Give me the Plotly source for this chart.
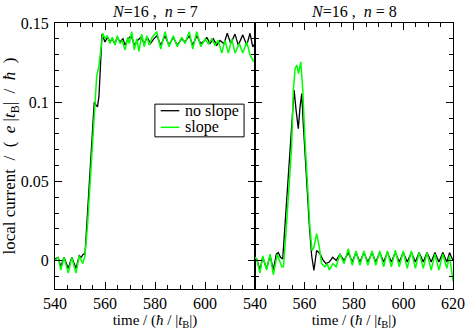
import plotly.graph_objects as go
from plotly.subplots import make_subplots

# n = 7 panel
t7_noslope = [540, 541.3, 542.3, 543.6, 545.3, 546.7, 548.4, 549.7, 550.5, 551.3, 552.0, 553.0,
              554.3, 555.7, 556.3, 557.0, 557.6, 558.2, 558.8, 560.0, 561.0, 562.0, 562.9, 564.0,
              564.9, 566.0, 567.2, 568.0, 569.2, 570.5, 571.8, 573.0, 574.4, 575.7, 576.9, 578.2,
              579.5, 580.8, 582.3, 584.0, 585.6, 587.3, 588.9, 590.7, 592.0, 593.7, 595.1, 596.7,
              598.3, 600.0, 600.7, 602.0, 603.3, 604.7, 606.0, 607.6, 608.9, 610.3, 612.0, 613.3,
              615.1, 616.7, 618.0, 619.1, 620]
j7_noslope = [0.001, 0.002, -0.004, 0.002, -0.005, 0.002, -0.005, 0.003, 0.002, 0.004, 0.004, 0.030,
              0.065, 0.100, 0.0985, 0.097, 0.104, 0.128, 0.143, 0.138, 0.141, 0.138, 0.140, 0.137,
              0.141, 0.138, 0.140, 0.136, 0.140, 0.142, 0.136, 0.139, 0.141, 0.137, 0.141, 0.137,
              0.140, 0.142, 0.136, 0.142, 0.136, 0.141, 0.136, 0.140, 0.138, 0.142, 0.136, 0.142,
              0.137, 0.139, 0.141, 0.137, 0.140, 0.136, 0.139, 0.137, 0.1435, 0.137, 0.143, 0.136,
              0.1425, 0.136, 0.1435, 0.135, 0.137]

t7_slope = [540, 541.3, 542.3, 543.6, 545.3, 546.7, 548.4, 549.7, 551.1, 552.0, 553.0, 554.3,
            555.5, 556.7, 557.5, 558.3, 559.1, 560.0, 560.9, 562.0, 562.9, 564.0, 564.9, 566.0,
            566.9, 568.0, 569.1, 569.7, 570.7, 571.7, 572.7, 573.6, 574.7, 575.7, 576.7, 577.7,
            578.9, 580.7, 582.3, 584.0, 585.6, 587.3, 588.9, 590.7, 592.0, 593.7, 595.1, 596.7,
            598.3, 600.0, 601.3, 602.7, 604.0, 605.3, 606.7, 608.0, 609.3, 610.7, 612.0, 613.7,
            615.1, 616.7, 618.0, 619.3, 620]
j7_slope = [0.000, 0.002, -0.006, 0.002, -0.008, 0.002, -0.008, 0.003, -0.002, 0.003, 0.022, 0.058,
            0.092, 0.117, 0.122, 0.135, 0.1435, 0.140, 0.142, 0.137, 0.141, 0.136, 0.142, 0.137,
            0.139, 0.133, 0.141, 0.137, 0.1445, 0.133, 0.140, 0.132, 0.143, 0.135, 0.142, 0.136,
            0.141, 0.1445, 0.1335, 0.1445, 0.135, 0.142, 0.135, 0.141, 0.137, 0.1445, 0.1335, 0.1445,
            0.135, 0.140, 0.137, 0.140, 0.136, 0.139, 0.131, 0.139, 0.131, 0.140, 0.131, 0.137,
            0.131, 0.138, 0.130, 0.126, 0.127]

# n = 8 panel
t8_noslope = [540, 540.7, 542.0, 543.1, 544.7, 546.1, 547.4, 548.6, 549.4, 550.3, 551.2, 552.1,
              552.7, 554.1, 555.0, 555.8, 556.6, 557.5, 558.2, 558.9, 559.5, 560.2, 561.1, 562.0,
              562.9, 563.8, 564.9, 566.3, 567.6, 568.7, 570.0, 571.4, 572.8, 574.3, 576.0, 577.7,
              579.3, 580.8, 582.4, 584.0, 585.6, 587.3, 588.8, 590.4, 592.0, 593.5, 595.1, 596.7,
              598.3, 599.9, 601.5, 603.2, 604.8, 606.3, 608.0, 609.5, 611.2, 612.7, 614.3, 615.9,
              617.5, 618.6, 620]
j8_noslope = [0.001, 0.001, -0.006, 0.002, -0.005, 0.003, -0.006, 0.004, 0.005, 0.002, 0.001, 0.021,
              0.038, 0.068, 0.085, 0.1076, 0.095, 0.0833, 0.097, 0.1055, 0.0865, 0.0675, 0.0485, 0.021,
              0.003, -0.0063, 0.0063, 0.0042, 0.000, -0.002, -0.001, 0.002, 0.000, 0.004, 0.000, 0.005,
              -0.001, 0.005, -0.001, 0.005, -0.001, 0.005, -0.001, 0.005, -0.001, 0.005, -0.001, 0.005,
              -0.001, 0.005, -0.001, 0.005, -0.001, 0.005, -0.001, 0.005, -0.001, 0.005, -0.001, 0.005,
              -0.001, 0.005, 0.000]

t8_slope = [540, 540.7, 542.0, 543.1, 544.7, 546.1, 547.4, 549.0, 550.8, 551.5, 552.5, 553.5,
            554.8, 555.5, 556.2, 556.9, 557.6, 558.5, 559.3, 560.2, 561.1, 562.2, 563.0, 563.8,
            564.9, 566.0, 566.9, 568.2, 569.2, 570.0, 571.5, 572.8, 574.3, 576.0, 577.7, 579.3,
            580.8, 582.4, 584.0, 585.6, 587.3, 588.8, 590.4, 592.0, 593.5, 595.1, 596.7, 598.3,
            599.9, 601.5, 603.2, 604.8, 606.3, 608.0, 609.5, 611.2, 612.7, 614.3, 615.9, 617.5,
            618.6, 620]
j8_slope = [0.002, 0.001, -0.008, 0.003, -0.006, 0.004, -0.009, 0.004, -0.004, -0.004, 0.017, 0.040,
            0.0717, 0.1076, 0.1213, 0.1234, 0.118, 0.1255, 0.1076, 0.076, 0.0506, 0.021, 0.0063, 0.0084,
            0.0169, 0.0084, -0.002, -0.004, -0.002, -0.006, -0.002, -0.004, 0.004, -0.002, 0.0074, -0.003,
            0.006, -0.003, 0.006, -0.003, 0.006, -0.003, 0.006, -0.004, 0.006, -0.004, 0.0065, -0.004,
            0.006, -0.005, 0.006, -0.005, 0.005, -0.005, 0.005, -0.006, 0.004, -0.006, 0.004, -0.005,
            0.003, -0.013]

x_ticks_left = [540, 560, 580, 600]
x_ticks_right = [540, 560, 580, 600, 620]
y_ticks = [0, 0.05, 0.1, 0.15]
y_ticktext = ["0", "0.05", "0.1", "0.15"]
legend_names = ["no slope", "slope"]

FONT = "Liberation Serif"
BLACK = "black"
GREEN = "#00ff00"

fig = make_subplots(rows=1, cols=2, shared_yaxes=True, horizontal_spacing=0)

fig.add_trace(go.Scatter(x=t7_noslope, y=j7_noslope, mode="lines", name=legend_names[0],
                         line=dict(color=BLACK, width=1.3)), row=1, col=1)
fig.add_trace(go.Scatter(x=t7_slope, y=j7_slope, mode="lines", name=legend_names[1],
                         line=dict(color=GREEN, width=1.5)), row=1, col=1)
fig.add_trace(go.Scatter(x=t8_noslope, y=j8_noslope, mode="lines", name=legend_names[0],
                         line=dict(color=BLACK, width=1.3)), row=1, col=2)
fig.add_trace(go.Scatter(x=t8_slope, y=j8_slope, mode="lines", name=legend_names[1],
                         line=dict(color=GREEN, width=1.5)), row=1, col=2)

xtitle = "time / (<i>ħ</i> / |<i>t</i><sub>B</sub>|)"
common_axis = dict(showline=True, linecolor="black", linewidth=1, mirror="ticks",
                   ticks="inside", ticklen=7, tickcolor="black", showgrid=False, zeroline=False,
                   automargin=False,
                   tickfont=dict(family=FONT, size=16, color="black"))

fig.update_xaxes(common_axis, range=[540, 620], domain=[0, 0.5025],
                 tickmode="array", tickvals=x_ticks_left, ticklabelstandoff=0,
                 minor=dict(ticks="inside", ticklen=4, dtick=5, tick0=540, tickcolor="black"),
                 title=dict(text=xtitle, font=dict(family=FONT, size=15), standoff=0),
                 row=1, col=1)
fig.update_xaxes(common_axis, range=[540, 620], domain=[0.5025, 1],
                 tickmode="array", tickvals=x_ticks_right, ticklabelstandoff=0,
                 minor=dict(ticks="inside", ticklen=4, dtick=5, tick0=540, tickcolor="black"),
                 title=dict(text=xtitle, font=dict(family=FONT, size=15), standoff=0),
                 row=1, col=2)
fig.update_yaxes(common_axis, range=[-0.018, 0.15], tickmode="array",
                 tickvals=y_ticks, ticktext=y_ticktext,
                 minor=dict(ticks="inside", ticklen=4, dtick=0.01, tick0=0, tickcolor="black"))
fig.update_yaxes(title=dict(text="local current  /  (  <i>e</i> |<i>t</i><sub>B</sub>|  /  <i>ħ</i>  )",
                            font=dict(family=FONT, size=17), standoff=3),
                 ticklabelstandoff=2, row=1, col=1)
fig.update_yaxes(showticklabels=False, row=1, col=2)

fig.add_annotation(text="<i>N</i>=16 ,  <i>n</i> = 7", x=0.2513, y=1.0, xref="paper", yref="paper",
                   xanchor="center", yanchor="bottom", showarrow=False, yshift=1,
                   font=dict(family=FONT, size=16))
fig.add_annotation(text="<i>N</i>=16 ,  <i>n</i> = 8", x=0.751, y=1.0, xref="paper", yref="paper",
                   xanchor="center", yanchor="bottom", showarrow=False, yshift=1,
                   font=dict(family=FONT, size=16))

# legend box drawn in the style of the original (compact, short line keys)
fig.add_shape(type="rect", xref="paper", yref="paper", x0=0.251, x1=0.475, y0=0.572, y1=0.695,
              line=dict(color="black", width=1), fillcolor="white", layer="above")
for i, (name, col, w) in enumerate(zip(legend_names, [BLACK, GREEN], [1.3, 1.5])):
    ly = 0.6703 - i * 0.0624
    fig.add_shape(type="line", xref="paper", yref="paper", x0=0.2656, x1=0.3123, y0=ly, y1=ly,
                  line=dict(color=col, width=w), layer="above")
    fig.add_annotation(text=name, x=0.3209, y=ly, xref="paper", yref="paper",
                       xanchor="left", yanchor="middle", showarrow=False,
                       font=dict(family=FONT, size=16))

fig.update_layout(
    width=469, height=331,
    margin=dict(l=55, r=16, t=23, b=42),
    paper_bgcolor="white", plot_bgcolor="white",
    font=dict(family=FONT, size=16, color="black"),
    showlegend=False,
)

# the page body has a default 8px margin; drop it so the figure fills the window
fig.write_html("out.html", config={"displayModeBar": False},
               post_script="document.body.style.margin='0';")
